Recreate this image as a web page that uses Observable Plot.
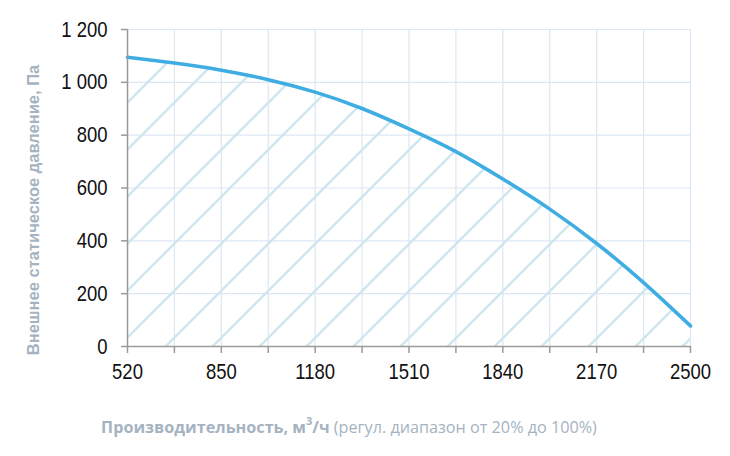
<!DOCTYPE html>
<html>
<head>
<meta charset="utf-8">
<script src="https://cdn.jsdelivr.net/npm/d3@7"></script>
<script src="https://cdn.jsdelivr.net/npm/@observablehq/plot@0.6"></script>
<style>
  html, body { margin: 0; padding: 0; background: #fff; }
  #wrap { position: relative; width: 730px; height: 456px; }
  #caption { position: absolute; left: 0; top: 417px; width: 698px; text-align: center;
    font-family: "Open Sans", sans-serif; font-size: 16.2px; line-height: 20px; color: #a5b3c1; white-space: nowrap; }
  #caption b { font-weight: 700; }
</style>
</head>
<body>
<div id="wrap"><div id="chart"></div>
<div id="caption"><b>Производительность, м<sup style="font-size:11px;vertical-align:8px;line-height:0">3</sup>/ч</b> (регул. диапазон от 20% до 100%)</div>
</div>
<script>
const flow = [520, 685, 850, 1015, 1180, 1345, 1510, 1675, 1840, 2005, 2170, 2335, 2500];
const pressure = [1095, 1073, 1046, 1010, 963, 901, 824, 738, 634, 520, 390, 242, 78];
const xTickLabels = [520, 850, 1180, 1510, 1840, 2170, 2500];
const yTicks = [0, 200, 400, 600, 800, 1000, 1200];
const yLabel = "Внешнее статическое давление, Па";

const data = flow.map((f, i) => ({flow: f, pressure: pressure[i]}));
const fmtY = d3.formatLocale({thousands: "\u00a0", grouping: [3], decimal: ","}).format(",");
const tickFont = {fontFamily: "'Liberation Sans', Arial, sans-serif", fontSize: 22, fill: "#111"};

const svg = Plot.plot({
  width: 730,
  height: 400,
  marginLeft: 127,
  marginRight: 40,
  marginTop: 29,
  marginBottom: 54,
  style: {background: "#fff", overflow: "visible"},
  x: {domain: [520, 2500]},
  y: {domain: [0, 1200]},
  marks: [
    Plot.gridX(flow, {stroke: "#dce7f3", strokeOpacity: 1, strokeWidth: 1.2}),
    Plot.gridY(yTicks, {stroke: "#dce7f3", strokeOpacity: 1, strokeWidth: 1.2}),
    Plot.areaY(data, {x: "flow", y: "pressure", curve: "natural", fill: "url(#hatch)"}),
    Plot.line(data, {x: "flow", y: "pressure", curve: "natural", stroke: "#3fade2", strokeWidth: 3.6}),
    Plot.ruleX([520], {stroke: "#9a9a9a", strokeWidth: 1.5}),
    Plot.ruleY([0], {stroke: "#9a9a9a", strokeWidth: 1.5}),
    Plot.axisX(flow, {tickSize: 7, tickPadding: 10, stroke: "#9a9a9a", strokeWidth: 1.5, label: null,
      tickFormat: d => xTickLabels.includes(d) ? String(d) : "", ...tickFont}),
    Plot.axisY(yTicks, {tickSize: 6, tickPadding: 14, stroke: "#9a9a9a", strokeWidth: 1.5, label: null,
      tickFormat: d => fmtY(d), ...tickFont})
  ]
});

const s = d3.select(svg);
const defs = s.insert("defs", ":first-child");
const pat = defs.append("pattern").attr("id", "hatch").attr("patternUnits", "userSpaceOnUse")
  .attr("width", 47).attr("height", 47).attr("patternTransform", "translate(42,0)");
[[0, 47, 47, 0], [-2, 2, 2, -2], [45, 49, 49, 45]].forEach(([x1, y1, x2, y2]) =>
  pat.append("line").attr("x1", x1).attr("y1", y1).attr("x2", x2).attr("y2", y2)
    .attr("stroke", "#cfe6ef").attr("stroke-width", 2.4));

s.append("text")
  .attr("transform", "translate(35,210) rotate(-90)")
  .attr("text-anchor", "middle")
  .attr("dominant-baseline", "middle")
  .attr("font-family", "'Liberation Sans', Arial, sans-serif")
  .attr("font-weight", "bold")
  .attr("font-size", 16.5)
  .attr("fill", "#a5b3c1")
  .text(yLabel);

document.getElementById("chart").appendChild(svg);

// condense tick labels horizontally (narrow face in the reference)
s.selectAll("g[aria-label$='tick label'] text").each(function () {
  const t = d3.select(this);
  t.attr("font-size", 22).attr("font-family", "'Liberation Sans', Arial, sans-serif");
  const w = this.getComputedTextLength();
  if (w > 0) t.attr("textLength", w * 0.84).attr("lengthAdjust", "spacingAndGlyphs");
});
</script>
</body>
</html>
